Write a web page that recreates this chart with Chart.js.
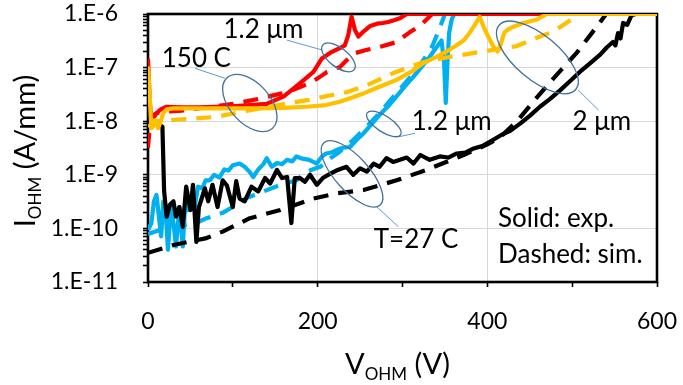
<!DOCTYPE html>
<html><head><meta charset="utf-8">
<script src="https://cdn.jsdelivr.net/npm/chart.js@4.4.1/dist/chart.umd.min.js"></script>
<style>html,body{margin:0;padding:0;background:#fff;} canvas{display:block;}</style>
</head><body>
<canvas id="c" width="683" height="385"></canvas>
<script>
// ---------- DATA ----------
// T = 27 C, 2 um (black)
const blackExpV = [0,10,17,19,22,26,30,33,37,41,45,50,53,57,60,63,67,71,76,82,88,93,100,104,108,114,122,130,138,144,152,158,164,169,173,179,185,191,199,206,215,222,234,242,250,258,266,273,281,289,297,305,313,321,332,344,354,364,374,384,395,407,417,427,439,450,462,474,486,497,509,521,533,541,548,551,554,557,560,565,570,575,600];
const blackExpI = [8.9e-9,8.9e-9,7.9e-9,5.0e-10,1.66e-10,2.8e-10,3.2e-10,1.66e-10,2.5e-10,1.07e-10,6.0e-10,2.2e-10,6.5e-10,5.6e-11,2.5e-10,3.5e-10,5.6e-10,3.2e-10,6.5e-10,2.5e-10,7.9e-10,6.3e-10,2.5e-10,7.6e-10,3.6e-10,3.2e-10,6.0e-10,4.9e-10,8.7e-10,6.9e-10,1.23e-9,8.7e-10,9.1e-10,1.26e-10,8.7e-10,8.7e-10,7.4e-10,1.0e-9,6.5e-10,8.7e-10,1.05e-9,1.2e-9,1.41e-9,1.0e-9,1.32e-9,1.15e-9,1.62e-9,1.41e-9,2.04e-9,1.74e-9,1.9e-9,2.1e-9,1.62e-9,2.34e-9,1.9e-9,2.2e-9,2.1e-9,2.5e-9,2.6e-9,3.1e-9,3.5e-9,4.5e-9,5.6e-9,6.6e-9,9.1e-9,1.26e-8,1.86e-8,2.6e-8,3.8e-8,5.5e-8,8.3e-8,1.2e-7,1.74e-7,2.4e-7,3.0e-7,2.6e-7,4.4e-7,3.5e-7,6.8e-7,6.3e-7,9.5e-7,1e-6,1e-6];
const blackSimV = [0,30,69,88,120,156,195,222,254,293,328,372,400,415,435,455,478,505,529,540,600];
const blackSimI = [3.5e-11,4.9e-11,6.6e-11,8.7e-11,1.55e-10,2.2e-10,3.6e-10,4.5e-10,5.2e-10,7.9e-10,1.23e-9,2.34e-9,3.7e-9,5.0e-9,1.0e-8,2.4e-8,6.3e-8,1.86e-7,5.8e-7,1e-6,1e-6];
// T = 27 C, 1.2 um (cyan)
const cyanExpV = [0,4,7,10,13,15.5,18,21,23.5,27,30,33,37,41,44,47,52,55,59,64,68,73,78,84,90,95,100,108,114,120,124,130,136,140,146,152,158,164,170,175,182,190,199,205,210,216,222,230,238,246,254,262,272,283,293,303,313,323,332,340,346,349,351,353,355,358,361,600];
const cyanExpI = [9.3e-11,1.26e-10,3.2e-10,4.2e-10,1.58e-10,7.1e-11,3.2e-10,2.0e-10,4.0e-11,2.5e-10,1.26e-10,4.6e-11,2.5e-10,4.6e-11,3.2e-10,2.2e-10,3.5e-10,2.5e-10,6.0e-10,5.6e-10,7.9e-10,7.9e-10,1.0e-9,8.9e-10,1.26e-9,1.2e-9,1.51e-9,1.62e-9,1.41e-9,1.12e-9,9.1e-10,1.26e-9,1.58e-9,2.04e-9,1.41e-9,1.66e-9,1.58e-9,1.9e-9,1.78e-9,2.2e-9,2.0e-9,1.9e-9,1.62e-9,2.2e-9,2.5e-9,2.6e-9,2.9e-9,3.2e-9,3.3e-9,4.5e-9,5.9e-9,8.3e-9,1.26e-8,1.9e-8,2.9e-8,4.5e-8,6.8e-8,1.05e-7,1.58e-7,2.4e-7,3.2e-7,1.26e-7,2.2e-8,1.26e-7,4.5e-7,7.9e-7,1e-6,1e-6];
const cyanSimV = [0,20,40,57,69,88,104,116,136,156,175,187,203,215,226,240,255,270,285,300,313,325,335,343,350,600];
const cyanSimI = [7.9e-11,1.0e-10,1.12e-10,1.26e-10,1.55e-10,1.95e-10,2.75e-10,3.7e-10,4.9e-10,6.5e-10,7.9e-10,1.15e-9,1.41e-9,2.04e-9,2.7e-9,4.2e-9,7.1e-9,1.26e-8,2.4e-8,4.5e-8,7.9e-8,1.41e-7,2.5e-7,5.0e-7,1e-6,1e-6];
// T = 150 C, 1.2 um (red)
const redExpV = [0,2,4,6,10,15,22,40,60,80,100,120,140,160,179,195,205,215,226,232,236,240,244,248,254,262,270,277,283,289,297,305,600];
const redExpI = [1.48e-7,2.5e-8,1.0e-8,1.12e-8,1.41e-8,1.66e-8,1.86e-8,1.82e-8,1.82e-8,1.86e-8,1.9e-8,2.0e-8,2.1e-8,2.9e-8,5.1e-8,8.3e-8,1.48e-7,1.9e-7,2.3e-7,2.6e-7,4.0e-7,8.9e-7,5.0e-7,3.8e-7,4.7e-7,6.0e-7,6.6e-7,6.8e-7,7.1e-7,7.6e-7,8.3e-7,1e-6,1e-6];
const redSimV = [0,2,5,10,20,40,70,100,130,150,165,180,190,200,211,226,235,244,256,276,293,308,322,335,600];
const redSimI = [3.2e-9,7.9e-9,1.26e-8,1.41e-8,1.51e-8,1.58e-8,1.82e-8,2.1e-8,2.6e-8,3.1e-8,3.5e-8,4.4e-8,5.1e-8,6.3e-8,8.3e-8,1.02e-7,1.41e-7,1.86e-7,2.1e-7,2.5e-7,3.0e-7,4.5e-7,6.3e-7,1e-6,1e-6];
// T = 150 C, 2 um (orange)
const orangeExpV = [0,2,4,6,8,10,12,15,18,22,30,69,100,128,160,187,210,226,240,254,270,293,310,324,340,352,362,372,378,384,391,396,401,407,412,415,420,425,431,442,458,470,600];
const orangeExpI = [1.05e-7,3.2e-8,7.4e-9,7.9e-9,1.05e-8,1.0e-8,7.4e-9,1.0e-8,1.41e-8,1.66e-8,1.74e-8,1.74e-8,1.74e-8,1.74e-8,1.78e-8,1.86e-8,2.0e-8,2.3e-8,2.75e-8,3.3e-8,4.2e-8,5.9e-8,8.3e-8,1.2e-7,1.58e-7,2.0e-7,2.5e-7,3.2e-7,4.2e-7,5.8e-7,8.9e-7,5.6e-7,3.8e-7,2.5e-7,2.0e-7,2.5e-7,4.5e-7,5.2e-7,5.8e-7,6.8e-7,7.8e-7,1e-6,1e-6];
const orangeSimV = [0,10,35,80,116,140,167,190,211,235,258,289,324,355,395,434,462,478,493,508,600];
const orangeSimI = [7.9e-9,1.0e-8,1.07e-8,1.2e-8,1.55e-8,1.82e-8,2.2e-8,2.5e-8,2.95e-8,3.5e-8,4.7e-8,7.9e-8,1.26e-7,1.58e-7,2.0e-7,2.5e-7,3.8e-7,4.7e-7,6.8e-7,1e-6,1e-6];

// ticks
const xTickValues = [0,200,400,600];
const xTickLabels = ['0','200','400','600'];
const yDecadeValues = [1e-11,1e-10,1e-9,1e-8,1e-7,1e-6];
const yTickLabels = ['1.E-11','1.E-10','1.E-9','1.E-8','1.E-7','1.E-6'];

// annotations (text placed in data units: V, A/mm)
const noteTexts = ['150 C','1.2 \u03bcm','1.2 \u03bcm','2 \u03bcm','T=27 C'];
const noteV = [57,136,358,535,316];
const noteI = [1.02e-7,3.55e-7,6.9e-9,6.9e-9,4.3e-11];
const legendTexts = ['Solid: exp.','Dashed: sim.'];
const legendV = [412.6,412.6];
const legendI = [1.07e-10,2.24e-11];
const ellipseV = [120,224.5,459,278,240.5];
const ellipseI = [2.19e-8,1.55e-7,1.55e-7,8.9e-9,1.04e-9];
const leaderFromV = [55.4,163.5,507,295,269.6];
const leaderFromI = [9.7e-8,3.27e-7,3.82e-8,5.1e-9,2.54e-10];
const leaderToV = [90.8,204.8,531,314.7,295];
const leaderToI = [6.3e-8,2.14e-7,1.62e-8,5.94e-9,1.08e-10];
// ellipse shapes (pixels / degrees) — styling
const ellipseShape = [[34,20,48],[20,9.5,38],[50,22,40],[20,8,33],[42,17,48]];

// ---------- BUILD ----------
const pts = (V, I) => V.map((v, i) => ({x: v, y: I[i]}));
const yTickList = [];
for (let d = -11; d <= -7; d++) for (let m = 1; m <= 9; m++) yTickList.push(parseFloat(m + 'e' + d));
yTickList.push(1e-6);
const decadeIndex = v => yDecadeValues.findIndex(d => Math.abs(v / d - 1) < 1e-6);

const RED = '#FF0000', ORANGE = '#FFC000', CYAN = '#00B0F0', BLACK = '#000000';
const DASH = [15, 10];
const LW = 4.2;
function ds(label, V, I, color, dashed) {
  return {label, data: pts(V, I), borderColor: color, backgroundColor: color, borderWidth: LW,
    borderDash: dashed ? DASH : [], pointRadius: 0, tension: 0, fill: false,
    borderJoinStyle: 'round', borderCapStyle: 'butt'};
}
function noPad(s) { s.paddingTop = 0; s.paddingBottom = 0; s.paddingLeft = 0; s.paddingRight = 0; }

const framePlugin = {
  id: 'frame',
  beforeDatasetsDraw(chart) {
    const {ctx, chartArea: a} = chart;
    ctx.save();
    ctx.strokeStyle = '#000'; ctx.lineWidth = 2.6;
    ctx.strokeRect(a.left, a.top, a.right - a.left, a.bottom - a.top);
    ctx.restore();
  }
};

const notesPlugin = {
  id: 'notes',
  afterDatasetsDraw(chart) {
    const {ctx} = chart;
    const xs = chart.scales.x, ys = chart.scales.y;
    const px = v => xs.getPixelForValue(v), py = v => ys.getPixelForValue(v);
    ctx.save();
    ctx.strokeStyle = '#5B9BD5'; ctx.lineWidth = 1;
    for (let i = 0; i < leaderFromV.length; i++) {
      ctx.beginPath();
      ctx.moveTo(px(leaderFromV[i]), py(leaderFromI[i]));
      ctx.lineTo(px(leaderToV[i]), py(leaderToI[i]));
      ctx.stroke();
    }
    ctx.strokeStyle = '#41719C'; ctx.lineWidth = 1.3;
    for (let i = 0; i < ellipseV.length; i++) {
      const [a, b, r] = ellipseShape[i];
      ctx.beginPath();
      ctx.ellipse(px(ellipseV[i]), py(ellipseI[i]), a, b, r * Math.PI / 180, 0, Math.PI * 2);
      ctx.stroke();
    }
    ctx.fillStyle = '#000'; ctx.font = '26px Lato'; ctx.textBaseline = 'alphabetic';
    ctx.textAlign = 'center';
    for (let i = 0; i < noteTexts.length; i++) ctx.fillText(noteTexts[i], px(noteV[i]), py(noteI[i]));
    ctx.textAlign = 'left';
    for (let i = 0; i < legendTexts.length; i++) ctx.fillText(legendTexts[i], px(legendV[i]), py(legendI[i]));
    ctx.restore();
  }
};

function subText(ctx, parts, cx, baseline) {
  let total = 0;
  parts.forEach(p => { ctx.font = p[1] + 'px Lato'; total += ctx.measureText(p[0]).width; });
  let x = cx - total / 2;
  parts.forEach(p => { ctx.font = p[1] + 'px Lato'; ctx.fillText(p[0], x, baseline + p[2]); x += ctx.measureText(p[0]).width; });
}
const titlePlugin = {
  id: 'titles',
  afterDraw(chart) {
    const {ctx, chartArea: a} = chart;
    ctx.save();
    ctx.fillStyle = '#000'; ctx.textAlign = 'left'; ctx.textBaseline = 'alphabetic';
    subText(ctx, [['V', 29, 0], ['OHM', 17, 6], [' (V)', 29, 0]], (a.left + a.right) / 2 - 5, 374);
    ctx.translate(35, (a.top + a.bottom) / 2 + 3);
    ctx.rotate(-Math.PI / 2);
    subText(ctx, [['I', 29, 0], ['OHM', 17, 6], [' (A/mm)', 29, 0]], 0, 0);
    ctx.restore();
  }
};

Chart.defaults.font.family = 'Lato';
Chart.defaults.color = '#000';

new Chart(document.getElementById('c'), {
  type: 'line',
  data: {
    datasets: [
      ds('150 C, 2 um exp', orangeExpV, orangeExpI, ORANGE, false),
      ds('150 C, 2 um sim', orangeSimV, orangeSimI, ORANGE, true),
      ds('150 C, 1.2 um exp', redExpV, redExpI, RED, false),
      ds('150 C, 1.2 um sim', redSimV, redSimI, RED, true),
      ds('27 C, 2 um sim', blackSimV, blackSimI, BLACK, true),
      ds('27 C, 2 um exp', blackExpV, blackExpI, BLACK, false),
      ds('27 C, 1.2 um sim', cyanSimV, cyanSimI, CYAN, true),
      ds('27 C, 1.2 um exp', cyanExpV, cyanExpI, CYAN, false)
    ]
  },
  options: {
    responsive: false, animation: false, devicePixelRatio: 1,
    layout: {padding: {left: 0, right: 26, top: 14, bottom: 0}},
    plugins: {legend: {display: false}, tooltip: {enabled: false}},
    scales: {
      x: {
        type: 'linear', min: 0, max: 600,
        border: {display: false},
        afterFit(s) { s.height = 103; noPad(s); },
        ticks: {stepSize: 100, autoSkip: false, maxRotation: 0, padding: 21, font: {size: 23},
          callback: v => { const k = xTickValues.indexOf(v); return k >= 0 ? xTickLabels[k] : ''; }},
        grid: {drawTicks: true, tickLength: 5, tickColor: '#000', tickWidth: 1.6, lineWidth: 1,
          color: c => (c.tick && c.tick.value % 200 === 0) ? '#D9D9D9' : 'rgba(0,0,0,0)'}
      },
      y: {
        type: 'logarithmic', min: 1e-11, max: 1e-6,
        border: {display: false},
        afterFit(s) { s.width = 148; noPad(s); },
        afterBuildTicks(s) { s.ticks = yTickList.map(v => ({value: v})); },
        ticks: {autoSkip: false, padding: 25, font: {size: 23},
          callback: v => { const k = decadeIndex(v); return k >= 0 ? yTickLabels[k] : ''; }},
        grid: {drawTicks: true, tickLength: 5, tickColor: '#000', tickWidth: 1.6, lineWidth: 1,
          color: c => (c.tick && decadeIndex(c.tick.value) >= 0) ? '#D9D9D9' : 'rgba(0,0,0,0)'}
      }
    }
  },
  plugins: [framePlugin, notesPlugin, titlePlugin]
});
</script>
</body></html>
